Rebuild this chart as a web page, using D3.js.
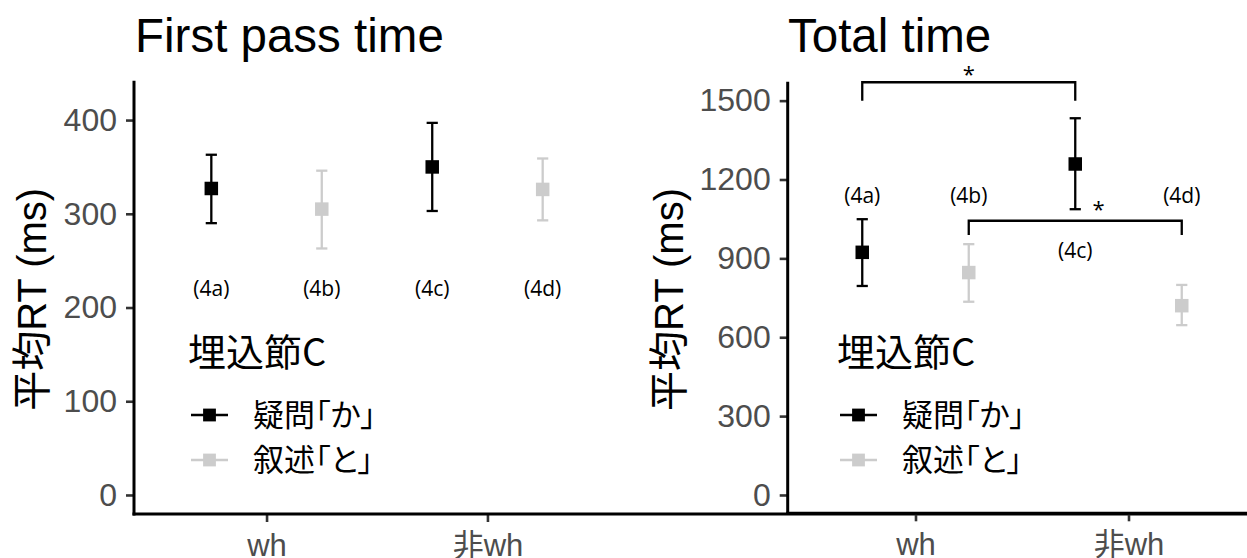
<!DOCTYPE html>
<html>
<head>
<meta charset="utf-8">
<script src="https://cdn.jsdelivr.net/npm/d3@7"></script>
<style>
  html, body { margin: 0; padding: 0; background: #ffffff; }
  svg { display: block; }
  .cjk { font-feature-settings: "palt"; }
</style>
</head>
<body>
<div id="chart"></div>
<script>
// ---------------- DATA ----------------
const categories = ["wh", "非wh"];
const seriesNames = ["疑問「か」", "叙述「と」"];
const legendTitle = "埋込節C";
const yAxisTitle = "平均RT (ms)";
const panelTitles = ["First pass time", "Total time"];
const conditionLabels = ["(4a)", "(4b)", "(4c)", "(4d)"];   // wh-Q, wh-D, 非wh-Q, 非wh-D

// First pass time (ms): means and error-bar limits per category
const fpMeanQ = [327, 350];
const fpLowQ  = [290, 303];
const fpHighQ = [363, 397];
const fpMeanD = [305, 326];
const fpLowD  = [263, 293];
const fpHighD = [346, 359];

// Total time (ms)
const ttMeanQ = [923, 1259];
const ttLowQ  = [795, 1087];
const ttHighQ = [1049, 1433];
const ttMeanD = [846, 720];
const ttLowD  = [735, 646];
const ttHighD = [954, 799];

// tick labels
const fpTicks = [0, 100, 200, 300, 400];
const ttTicks = [0, 300, 600, 900, 1200, 1500];

// annotation label heights (data units), order 4a,4b,4c,4d
const fpLabelY = [220, 220, 220, 220];
const ttLabelY = [1140, 1140, 930, 1140];

// significance brackets on the total time panel
const ttBracketFrom = ["(4a)", "(4b)"];
const ttBracketTo   = ["(4c)", "(4d)"];
const ttBracketBar  = [1570, 1043];
const ttBracketLeg  = [1500, 989];
const ttStarX       = [1.25, 1.86];
const ttStarY       = [1617, 1103];
const ttStarText    = ["*", "*"];

// ---------------- LAYOUT / STYLE ----------------
const W = 1247, H = 558;
const colors = d3.scaleOrdinal().domain(seriesNames).range(["#000000", "#cccccc"]);
const dodge = 0.25;
const latin = "'Liberation Sans', Arial, 'Noto Sans CJK JP', sans-serif";
const cjk = "'Noto Sans CJK JP', 'Liberation Sans', sans-serif";
const annoFont = "'Open Sans', 'Noto Sans', sans-serif";

const svg = d3.select("#chart").append("svg")
  .attr("width", W).attr("height", H)
  .attr("viewBox", `0 0 ${W} ${H}`);

function buildRows(meanQ, lowQ, highQ, meanD, lowD, highD, labelY) {
  const rows = [];
  categories.forEach((c, i) => {
    rows.push({cat: i + 1, off: -dodge, series: seriesNames[0], mean: meanQ[i], low: lowQ[i], high: highQ[i]});
    rows.push({cat: i + 1, off: dodge, series: seriesNames[1], mean: meanD[i], low: lowD[i], high: highD[i]});
  });
  rows.forEach((r, k) => { r.label = conditionLabels[k]; r.labelY = labelY[k]; });
  return rows;
}

function drawPanel(opt) {
  const g = svg.append("g");
  const x = d3.scaleLinear().domain([0.4, 2.6]).range([opt.x0, opt.x1]);
  const y = d3.scaleLinear().domain(opt.yDomain).range([opt.y1, opt.y0]);

  // title
  g.append("text")
    .attr("x", opt.titleX).attr("y", 51.5)
    .attr("font-family", latin).attr("font-size", 47.5).attr("fill", "#000")
    .text(opt.title);

  // y axis
  const ya = g.append("g").attr("transform", `translate(${opt.x0},0)`)
    .call(d3.axisLeft(y).tickValues(opt.ticks).tickFormat(d3.format("d"))
      .tickSize(8).tickPadding(9).tickSizeOuter(0));
  ya.select(".domain").remove();
  ya.selectAll(".tick line").attr("stroke", "#333333").attr("stroke-width", 2.6);
  ya.selectAll(".tick text").attr("font-family", latin).attr("font-size", 32).attr("fill", "#4d4d4d");

  // x axis
  const xa = g.append("g").attr("transform", `translate(0,${opt.y1})`)
    .call(d3.axisBottom(x).tickValues(categories.map((c, i) => i + 1))
      .tickFormat((d) => categories[d - 1]).tickSize(8).tickPadding(12).tickSizeOuter(0));
  xa.select(".domain").remove();
  xa.selectAll(".tick line").attr("stroke", "#333333").attr("stroke-width", 2.6);
  xa.selectAll(".tick text").attr("font-family", latin).attr("font-size", 31).attr("fill", "#4d4d4d");

  // axis lines
  g.append("line").attr("x1", opt.x0).attr("x2", opt.x0).attr("y1", opt.y0).attr("y2", opt.y1 + 1.5)
    .attr("stroke", "#000").attr("stroke-width", 3);
  g.append("line").attr("x1", opt.x0 - 1.5).attr("x2", W + 20).attr("y1", opt.y1).attr("y2", opt.y1)
    .attr("stroke", "#000").attr("stroke-width", 3);

  // y title
  g.append("text")
    .attr("transform", `translate(${opt.yTitleX},${(opt.y0 + opt.y1) / 2 + 2}) rotate(-90)`)
    .attr("text-anchor", "middle")
    .attr("font-family", latin).attr("font-size", 40).attr("fill", "#000")
    .text(yAxisTitle);

  const rows = opt.rows;
  const px = (r) => x(r.cat + r.off);
  const capW = 5.6;

  // error bars
  const eb = g.append("g");
  eb.selectAll("line.v").data(rows).join("line").attr("class", "v")
    .attr("x1", px).attr("x2", px).attr("y1", (d) => y(d.low)).attr("y2", (d) => y(d.high))
    .attr("stroke", (d) => colors(d.series)).attr("stroke-width", 2.3);
  eb.selectAll("line.t").data(rows).join("line").attr("class", "t")
    .attr("x1", (d) => px(d) - capW).attr("x2", (d) => px(d) + capW)
    .attr("y1", (d) => y(d.high)).attr("y2", (d) => y(d.high))
    .attr("stroke", (d) => colors(d.series)).attr("stroke-width", 2.3);
  eb.selectAll("line.b").data(rows).join("line").attr("class", "b")
    .attr("x1", (d) => px(d) - capW).attr("x2", (d) => px(d) + capW)
    .attr("y1", (d) => y(d.low)).attr("y2", (d) => y(d.low))
    .attr("stroke", (d) => colors(d.series)).attr("stroke-width", 2.3);

  // points
  const ps = 13.5;
  g.selectAll("rect.pt").data(rows).join("rect").attr("class", "pt")
    .attr("x", (d) => px(d) - ps / 2).attr("y", (d) => y(d.mean) - ps / 2)
    .attr("width", ps).attr("height", ps)
    .attr("fill", (d) => colors(d.series));

  // condition labels
  g.selectAll("text.lab").data(rows).join("text").attr("class", "lab")
    .attr("x", px).attr("y", (d) => y(d.labelY)).attr("dy", "0.36em")
    .attr("text-anchor", "middle")
    .attr("font-family", annoFont).attr("font-size", 21).attr("fill", "#000")
    .text((d) => d.label);

  // brackets
  if (opt.brackets) {
    const byLab = {};
    rows.forEach((r) => { byLab[r.label] = r; });
    opt.brackets.from.forEach((f, i) => {
      const a = px(byLab[f]), b = px(byLab[opt.brackets.to[i]]);
      g.append("path")
        .attr("d", `M${a},${y(opt.brackets.leg[i])}V${y(opt.brackets.bar[i])}H${b}V${y(opt.brackets.leg[i])}`)
        .attr("fill", "none").attr("stroke", "#000").attr("stroke-width", 2.3);
      g.append("text")
        .attr("x", x(opt.brackets.starX[i])).attr("y", y(opt.brackets.starY[i])).attr("dy", "0.55em")
        .attr("text-anchor", "middle")
        .attr("font-family", annoFont).attr("font-size", 22).attr("fill", "#000")
        .text(opt.brackets.star[i]);
    });
  }

  // legend
  const lg = g.append("g");
  lg.append("text")
    .attr("x", opt.legX - 1).attr("y", 352).attr("dy", "0.36em")
    .attr("font-family", cjk).attr("font-size", 38).attr("fill", "#000")
    .text(legendTitle);
  const keyY = [415, 460];
  seriesNames.forEach((s, i) => {
    const kx = opt.legX + 2;
    lg.append("line").attr("x1", kx).attr("x2", kx + 37).attr("y1", keyY[i]).attr("y2", keyY[i])
      .attr("stroke", colors(s)).attr("stroke-width", 2.3);
    lg.append("rect").attr("x", kx + 18.5 - 6.4).attr("y", keyY[i] - 6.4)
      .attr("width", 12.8).attr("height", 12.8).attr("fill", colors(s));
    lg.append("text").attr("class", "cjk")
      .attr("x", kx + 62).attr("y", keyY[i]).attr("dy", "0.36em")
      .attr("font-family", cjk).attr("font-size", 31).attr("fill", "#000")
      .text(s);
  });
}

drawPanel({
  title: panelTitles[0], titleX: 135,
  x0: 134, x1: 620, y0: 80.7, y1: 514,
  yDomain: [-20.3, 442], ticks: fpTicks, yTitleX: 46,
  rows: buildRows(fpMeanQ, fpLowQ, fpHighQ, fpMeanD, fpLowD, fpHighD, fpLabelY),
  legX: 189
});

drawPanel({
  title: panelTitles[1], titleX: 788,
  x0: 787.7, x1: 787.7 + 2.2 * 213, y0: 81.7, y1: 513.3,
  yDomain: [-69.7, 1572], ticks: ttTicks, yTitleX: 683,
  rows: buildRows(ttMeanQ, ttLowQ, ttHighQ, ttMeanD, ttLowD, ttHighD, ttLabelY),
  legX: 838,
  brackets: {from: ttBracketFrom, to: ttBracketTo, bar: ttBracketBar, leg: ttBracketLeg,
             starX: ttStarX, starY: ttStarY, star: ttStarText}
});
</script>
</body>
</html>
